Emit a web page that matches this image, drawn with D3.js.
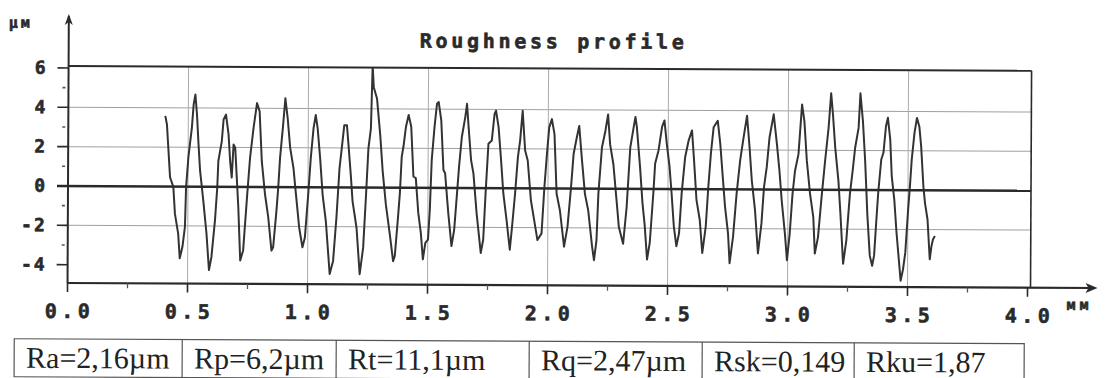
<!DOCTYPE html>
<html>
<head>
<meta charset="utf-8">
<script src="https://cdn.jsdelivr.net/npm/d3@7"></script>
<style>
  body { margin: 0; background: #fff; }
  svg { display: block; }
</style>
</head>
<body>
<svg id="chart" width="1108" height="378"></svg>
<script>
// tick values of the profile chart
const xTicks = [0.0, 0.5, 1.0, 1.5, 2.0, 2.5, 3.0, 3.5, 4.0];
const xMinorTicks = [0.25, 0.75, 1.25, 1.75, 2.25, 2.75, 3.25, 3.75];
const yTicks = [6, 4, 2, 0, -2, -4];
const yMinorTicks = [5, 3, 1, -1, -3];
const xGrid = [0.5, 1.0, 1.5, 2.0, 2.5, 3.0, 3.5];
const yGrid = [4, 2, -2];

// roughness profile: position (mm) and height (µm)
const profileMm = [
  0.404, 0.411, 0.425, 0.439, 0.446, 0.460, 0.467, 0.478, 0.488, 0.492,
  0.501, 0.515, 0.522, 0.529, 0.536, 0.543, 0.550, 0.564, 0.578, 0.589,
  0.599, 0.613, 0.622, 0.626, 0.640, 0.647, 0.657, 0.668, 0.675, 0.682,
  0.689, 0.696, 0.703, 0.710, 0.719, 0.731, 0.747, 0.758, 0.772, 0.786,
  0.797, 0.807, 0.821, 0.835, 0.849, 0.856, 0.869, 0.876, 0.883, 0.894,
  0.904, 0.914, 0.925, 0.939, 0.950, 0.964, 0.978, 0.988, 1.001, 1.011,
  1.022, 1.031, 1.039, 1.050, 1.061, 1.075, 1.092, 1.106, 1.119, 1.131,
  1.140, 1.150, 1.161, 1.168, 1.178, 1.186, 1.203, 1.217, 1.231, 1.242,
  1.251, 1.261, 1.267, 1.272, 1.286, 1.300, 1.311, 1.325, 1.342, 1.356,
  1.363, 1.376, 1.383, 1.390, 1.397, 1.407, 1.418, 1.429, 1.439, 1.449,
  1.460, 1.471, 1.480, 1.490, 1.501, 1.508, 1.515, 1.526, 1.536, 1.543,
  1.554, 1.564, 1.571, 1.585, 1.599, 1.610, 1.619, 1.629, 1.640, 1.654,
  1.661, 1.668, 1.679, 1.689, 1.703, 1.721, 1.731, 1.740, 1.751, 1.765,
  1.776, 1.782, 1.793, 1.804, 1.814, 1.828, 1.842, 1.851, 1.863, 1.874,
  1.883, 1.893, 1.904, 1.915, 1.929, 1.943, 1.957, 1.974, 1.985, 1.995,
  2.004, 2.015, 2.026, 2.036, 2.050, 2.068, 2.082, 2.096, 2.106, 2.119,
  2.129, 2.140, 2.154, 2.168, 2.185, 2.193, 2.203, 2.210, 2.224, 2.238,
  2.249, 2.258, 2.272, 2.286, 2.296, 2.314, 2.328, 2.342, 2.356, 2.363,
  2.369, 2.383, 2.394, 2.404, 2.414, 2.425, 2.439, 2.446, 2.460, 2.474,
  2.484, 2.494, 2.506, 2.515, 2.525, 2.536, 2.547, 2.557, 2.571, 2.585,
  2.599, 2.608, 2.619, 2.633, 2.644, 2.658, 2.668, 2.678, 2.689, 2.706,
  2.717, 2.728, 2.738, 2.751, 2.758, 2.772, 2.786, 2.800, 2.814, 2.828,
  2.839, 2.849, 2.863, 2.876, 2.890, 2.900, 2.911, 2.922, 2.939, 2.953,
  2.964, 2.974, 2.988, 2.997, 3.008, 3.019, 3.029, 3.043, 3.057, 3.067,
  3.078, 3.092, 3.106, 3.113, 3.126, 3.140, 3.154, 3.168, 3.178, 3.186,
  3.196, 3.210, 3.219, 3.231, 3.244, 3.258, 3.269, 3.279, 3.293, 3.300,
  3.311, 3.321, 3.331, 3.342, 3.352, 3.360, 3.369, 3.376, 3.388, 3.397,
  3.407, 3.415, 3.425, 3.432, 3.443, 3.453, 3.463, 3.471, 3.481, 3.490,
  3.501, 3.508, 3.515, 3.526, 3.536, 3.546, 3.554, 3.564, 3.571, 3.582,
  3.592, 3.599, 3.605, 3.613
];
const profileUm = [
  3.59, 3.16, 0.47, -0.03, -1.38, -2.39, -3.65, -3.06, -2.05, -0.03,
  1.48, 3.00, 4.18, 4.68, 3.67, 2.15, 0.81, -0.71, -2.39, -4.24,
  -3.57, -1.72, -0.03, 1.31, 2.32, 3.42, 3.67, 2.66, 1.31, 0.47,
  2.15, 1.99, 0.47, -1.04, -3.74, -3.23, -0.37, 1.48, 3.00, 4.26,
  3.84, 1.31, -0.37, -1.55, -3.23, -3.06, -1.21, -0.03, 1.48, 3.00,
  4.51, 3.50, 1.99, 0.98, -0.37, -2.05, -3.06, -2.56, -0.37, 1.48,
  3.00, 3.67, 3.00, 1.48, -0.37, -1.72, -4.41, -3.74, -1.55, 0.98,
  1.99, 3.16, 3.16, 2.15, 0.64, -0.71, -2.05, -4.41, -3.06, -0.37,
  1.99, 3.00, 6.20, 5.10, 4.51, 2.66, 0.81, -0.88, -2.39, -3.74,
  -3.47, -1.45, -0.27, 1.58, 2.09, 3.10, 3.69, 3.10, 0.57, 0.49,
  -1.28, -2.29, -3.64, -2.80, -2.63, -1.11, 1.41, 3.10, 4.28, 4.36,
  3.43, 0.91, 0.74, -1.28, -2.96, -2.12, -0.61, 1.08, 2.59, 3.60,
  4.28, 3.10, 1.41, 0.74, -1.28, -3.30, -2.63, -0.27, 2.25, 2.42,
  3.77, 3.94, 3.10, 1.41, -0.27, -1.62, -3.13, -1.95, -0.27, 1.58,
  2.42, 3.94, 1.92, 1.41, -0.61, -1.62, -2.63, -2.29, 0.07, 1.75,
  3.10, 3.52, 2.76, -0.27, -1.11, -2.96, -1.95, 0.07, 1.75, 2.59,
  3.18, 1.58, -0.27, -1.11, -2.96, -3.64, -2.63, -0.27, 2.09, 2.93,
  3.77, 2.25, 1.24, -0.61, -1.95, -2.80, -0.94, 2.09, 3.15, 3.65,
  3.15, 1.13, -0.73, -1.90, -3.59, -2.75, -0.22, 1.29, 1.97, 3.15,
  3.48, 2.30, 1.13, -0.22, -1.90, -2.91, -2.24, -0.22, 1.63, 2.47,
  2.98, 1.46, -0.56, -1.57, -3.25, -1.90, 0.12, 1.80, 3.15, 3.48,
  2.30, 0.62, -0.89, -2.24, -3.76, -2.41, -0.22, 1.46, 2.64, 3.74,
  2.14, 0.45, -1.06, -3.25, -1.74, 0.12, 1.13, 2.64, 3.82, 2.30,
  0.96, -0.56, -2.24, -3.59, -2.24, -0.22, 0.96, 1.80, 4.33, 3.48,
  1.46, -0.22, -1.40, -3.25, -2.41, -0.39, 1.46, 3.15, 4.91, 3.82,
  2.14, 0.45, -1.23, -3.76, -2.58, -0.22, 0.96, 2.14, 3.15, 4.91,
  3.48, 1.46, -1.23, -3.34, -3.85, -3.34, -1.49, -0.14, 1.55, 1.89,
  3.24, 3.67, 2.57, 0.71, -0.47, -2.16, -3.51, -4.61, -4.02, -3.18,
  -0.98, 0.20, 1.55, 2.91, 3.67, 3.24, 2.23, 0.20, -0.64, -1.49,
  -3.51, -2.84, -2.50, -2.33
];

// parameter table under the chart
const paramLabels = ["Ra=2,16µm", "Rp=6,2µm", "Rt=11,1µm", "Rq=2,47µm", "Rsk=0,149", "Rku=1,87"];

const title = "Roughness profile";

const svg = d3.select("#chart");

// the scan is tilted a little, so the whole drawing is turned about the origin
const root = svg.append("g").attr("transform", "rotate(0.28,68,186)");

const x = d3.scaleLinear().domain([0, 4]).range([68, 1028]);
const y = d3.scaleLinear().domain([-4.93, 6.1]).range([283, 66]);

const plotRight = 1031;
const monoFont = "'DejaVu Sans Mono', 'Liberation Mono', monospace";
const ink = "#2a2a2a";

// heavy printer-like text
function printText(sel, size, spacing) {
  return sel
    .style("font-family", monoFont)
    .style("font-weight", "bold")
    .style("font-size", size + "px")
    .style("letter-spacing", spacing + "px")
    .style("fill", ink)
    .style("stroke", ink)
    .style("stroke-width", 0.6);
}

// grid
root.selectAll(".hgrid").data(yGrid).enter().append("line")
  .attr("x1", x(0)).attr("x2", plotRight)
  .attr("y1", d => y(d)).attr("y2", d => y(d))
  .style("stroke", "#a0a0a0").style("stroke-width", 1);

root.selectAll(".vgrid").data(xGrid).enter().append("line")
  .attr("x1", d => x(d)).attr("x2", d => x(d))
  .attr("y1", y.range()[1]).attr("y2", y.range()[0])
  .style("stroke", "#ababab").style("stroke-width", 1);

// clip for the trace
svg.append("defs").append("clipPath").attr("id", "plotclip")
  .append("rect")
  .attr("x", x(0)).attr("y", y.range()[1])
  .attr("width", plotRight - x(0)).attr("height", y.range()[0] - y.range()[1]);

const profile = profileMm.map((d, i) => ({ mm: d, um: profileUm[i] }));

const line = d3.line()
  .x(d => x(d.mm))
  .y(d => y(d.um));

root.append("path")
  .datum(profile)
  .attr("clip-path", "url(#plotclip)")
  .attr("d", line)
  .style("fill", "none")
  .style("stroke", "#333")
  .style("stroke-width", 2)
  .style("stroke-linejoin", "round");

// zero line
root.append("line")
  .attr("x1", x(0) - 11).attr("x2", plotRight)
  .attr("y1", y(0)).attr("y2", y(0))
  .style("stroke", ink).style("stroke-width", 2.5);

// frame: top and right
root.append("line")
  .attr("x1", x(0)).attr("x2", plotRight)
  .attr("y1", y.range()[1]).attr("y2", y.range()[1])
  .style("stroke", ink).style("stroke-width", 2);
root.append("line")
  .attr("x1", plotRight).attr("x2", plotRight)
  .attr("y1", y.range()[1]).attr("y2", y.range()[0])
  .style("stroke", ink).style("stroke-width", 1.6);

// y axis with arrow
root.append("line")
  .attr("x1", x(0)).attr("x2", x(0))
  .attr("y1", 16).attr("y2", y.range()[0])
  .style("stroke", ink).style("stroke-width", 2);
root.append("path")
  .attr("d", `M${x(0)},14 L${x(0) - 4},25 L${x(0)},22 L${x(0) + 4},25 Z`)
  .style("fill", ink);

// x axis with arrow
root.append("line")
  .attr("x1", x(0)).attr("x2", 1094)
  .attr("y1", y.range()[0]).attr("y2", y.range()[0])
  .style("stroke", ink).style("stroke-width", 2.2);
root.append("path")
  .attr("d", `M1098,${y.range()[0]} L1086,${y.range()[0] - 5} L1089,${y.range()[0]} L1086,${y.range()[0] + 5} Z`)
  .style("fill", ink);

// x ticks
root.selectAll(".xtick").data(xTicks).enter().append("line")
  .attr("x1", d => x(d)).attr("x2", d => x(d))
  .attr("y1", y.range()[0]).attr("y2", y.range()[0] + 9)
  .style("stroke", ink).style("stroke-width", 1.6);
root.selectAll(".xminor").data(xMinorTicks).enter().append("line")
  .attr("x1", d => x(d)).attr("x2", d => x(d))
  .attr("y1", y.range()[0]).attr("y2", y.range()[0] + 5)
  .style("stroke", "#555").style("stroke-width", 1.3);

printText(root.selectAll(".xlabel").data(xTicks).enter().append("text")
  .attr("x", d => x(d))
  .attr("y", 318)
  .attr("dx", 2.2)
  .attr("text-anchor", "middle"), 20, 4.5)
  .text(d => d3.format(".1f")(d));

// y ticks
root.selectAll(".ytick").data(yTicks).enter().append("line")
  .attr("x1", x(0) - 11).attr("x2", x(0))
  .attr("y1", d => y(d)).attr("y2", d => y(d))
  .style("stroke", ink).style("stroke-width", 1.6);
root.selectAll(".yminor").data(yMinorTicks).enter().append("line")
  .attr("x1", x(0) - 6).attr("x2", x(0) - 3)
  .attr("y1", d => y(d)).attr("y2", d => y(d))
  .style("stroke", "#555").style("stroke-width", 1.6);

printText(root.selectAll(".ylabel").data(yTicks).enter().append("text")
  .attr("x", 45)
  .attr("y", d => y(d) + 6)
  .attr("dx", 2)
  .attr("text-anchor", "end"), 18, 2)
  .text(d => d < 0 ? "-" + Math.abs(d) : String(d));

// unit labels
printText(root.append("text")
  .attr("x", 8).attr("y", 28), 15, 3)
  .text("µм");

printText(root.append("text")
  .attr("x", 1067).attr("y", 305), 15, 4)
  .text("мм");

// title
printText(root.append("text")
  .attr("x", 551).attr("y", 46)
  .attr("dx", 1.9)
  .attr("text-anchor", "middle"), 20, 3.7)
  .text(title);

// parameter table
const cellEdges = [15, 183, 337, 530, 703, 855, 1025];
const table = root.append("g");
table.append("rect")
  .attr("x", cellEdges[0]).attr("y", 339)
  .attr("width", cellEdges[cellEdges.length - 1] - cellEdges[0])
  .attr("height", 38)
  .style("fill", "none").style("stroke", "#555").style("stroke-width", 1.2);
table.selectAll(".divider").data(cellEdges.slice(1, -1)).enter().append("line")
  .attr("x1", d => d).attr("x2", d => d)
  .attr("y1", 339).attr("y2", 377)
  .style("stroke", "#555").style("stroke-width", 1.2);
table.selectAll(".param").data(paramLabels).enter().append("text")
  .attr("x", (d, i) => cellEdges[i] + 12)
  .attr("y", 368)
  .style("font-family", "'Liberation Serif', 'Times New Roman', serif")
  .style("font-size", "30px")
  .style("fill", "#222")
  .text(d => d);
</script>
</body>
</html>
